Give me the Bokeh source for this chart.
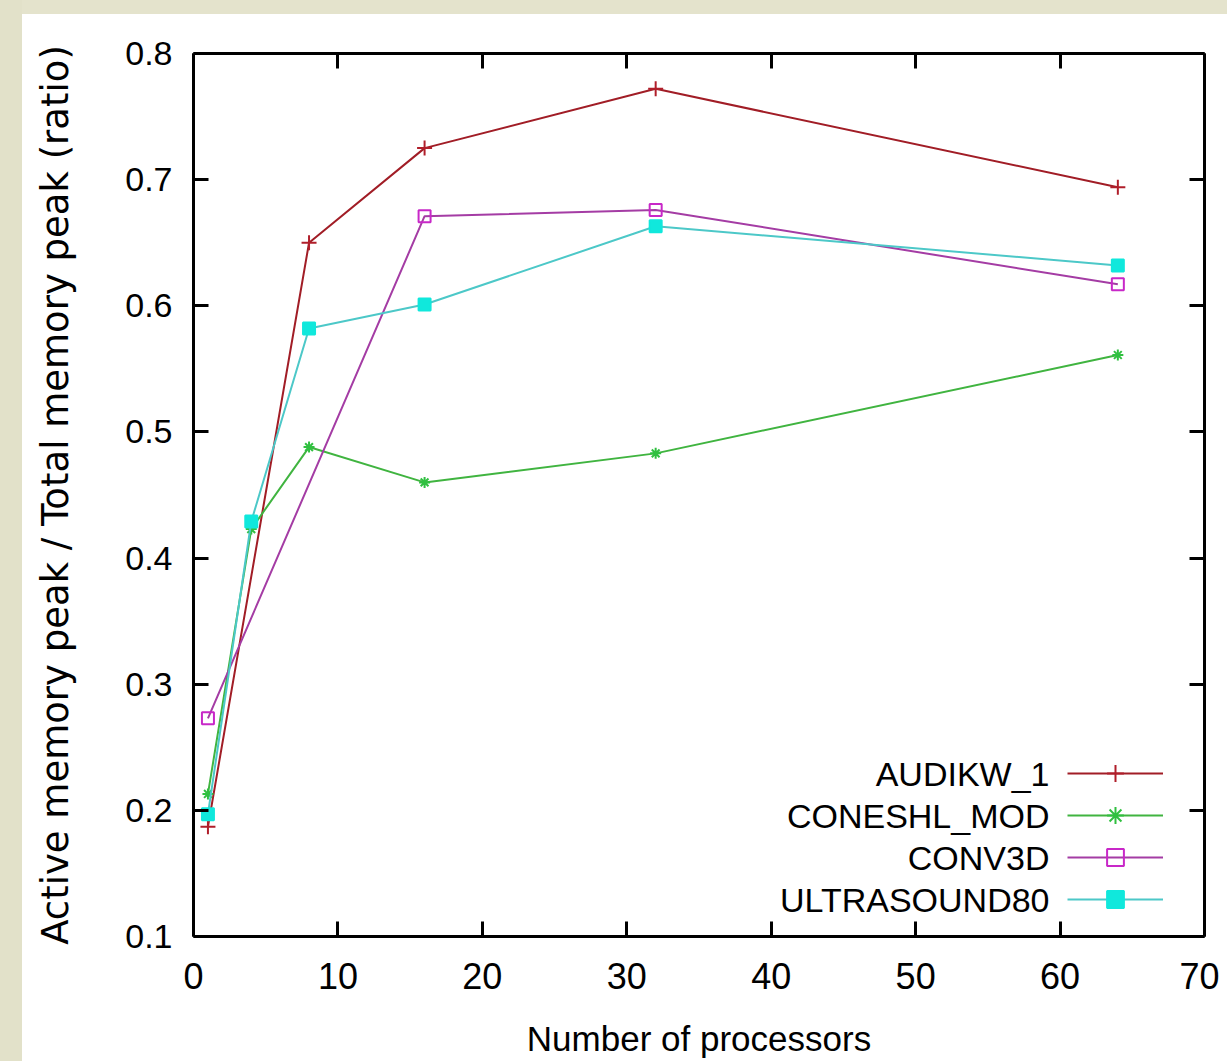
from bokeh.plotting import figure
from bokeh.models import (LinearAxis, FixedTicker, Range1d, Legend, LegendItem, Label,
                          CustomJSTickFormatter)
from bokeh.embed import file_html
from bokeh.resources import INLINE

# ---------------- data ----------------
x_label = "Number of processors"
y_label = "Active memory peak / Total memory peak (ratio)"
x_ticks = [0, 10, 20, 30, 40, 50, 60, 70]
y_ticks = [0.1, 0.2, 0.3, 0.4, 0.5, 0.6, 0.7, 0.8]

series_names = ["AUDIKW_1", "CONESHL_MOD", "CONV3D", "ULTRASOUND80"]

audikw_x = [1, 8, 16, 32, 64]
audikw_y = [0.187, 0.650, 0.725, 0.772, 0.694]

coneshl_x = [1, 4, 8, 16, 32, 64]
coneshl_y = [0.213, 0.423, 0.488, 0.460, 0.483, 0.561]

conv3d_x = [1, 16, 32, 64]
conv3d_y = [0.273, 0.671, 0.676, 0.617]

ultra_x = [1, 4, 8, 16, 32, 64]
ultra_y = [0.197, 0.429, 0.582, 0.601, 0.663, 0.632]

# ---------------- styles ----------------
line_colors = ["#a11d26", "#40b440", "#a43ca4", "#4cc8c8"]
marker_colors = ["#b01e2a", "#30c040", "#c828c8", "#10e8dc"]
markers = ["cross", "asterisk", "square", "square"]
marker_sizes = [15, 11, 12, 12]
marker_fill = [False, False, False, True]

FONT = "Liberation Sans"

p = figure(width=1219, height=1061,
           x_range=Range1d(0, 70), y_range=Range1d(0.1, 0.8),
           output_backend="svg", toolbar_location=None,
           min_border_left=193, min_border_right=15,
           min_border_top=53, min_border_bottom=125,
           background_fill_color="white", border_fill_alpha=0.0,
           outline_line_color=None)
p.grid.visible = False

xa = p.xaxis[0]
xa.ticker = FixedTicker(ticks=x_ticks)
xa.axis_label = x_label
ya = p.yaxis[0]
ya.ticker = FixedTicker(ticks=y_ticks)
ya.axis_label = y_label

for ax in (xa, ya):
    ax.axis_line_width = 3
    ax.axis_line_color = "black"
    ax.major_tick_in = 15
    ax.major_tick_out = 0
    ax.major_tick_line_width = 3
    ax.minor_tick_line_color = None
    ax.axis_label_text_font_style = "normal"
    ax.major_label_text_color = "black"
    ax.axis_label_text_color = "black"

xa.major_label_text_font = FONT
xa.major_label_text_font_size = "36px"
xa.major_label_standoff = 26
xa.axis_label_text_font = FONT
xa.axis_label_text_font_size = "35px"
xa.axis_label_standoff = 27

ya.major_label_text_font = FONT
ya.major_label_text_font_size = "34px"
ya.major_label_standoff = 21
ya.axis_label_text_font = "DejaVu Sans"
ya.axis_label_text_font_size = "37px"
ya.axis_label_standoff = 45

# mirrored axes (top / right) with inward ticks, no labels
blank = CustomJSTickFormatter(code="return ''")
top = LinearAxis(ticker=FixedTicker(ticks=x_ticks), formatter=blank,
                 major_tick_in=15, major_tick_out=0, axis_line_width=3,
                 major_tick_line_width=3, minor_tick_line_color=None,
                 major_label_standoff=0)
right = LinearAxis(ticker=FixedTicker(ticks=y_ticks), formatter=blank,
                   major_tick_in=15, major_tick_out=0, axis_line_width=3,
                   major_tick_line_width=3, minor_tick_line_color=None,
                   major_label_standoff=0)
p.add_layout(top, "above")
p.add_layout(right, "right")

xs = [audikw_x, coneshl_x, conv3d_x, ultra_x]
ys = [audikw_y, coneshl_y, conv3d_y, ultra_y]

items = []
for i in range(4):
    lr = p.line(xs[i], ys[i], line_color=line_colors[i], line_width=2)
    sr = p.scatter(xs[i], ys[i], marker=markers[i], size=marker_sizes[i],
                   line_color=marker_colors[i], line_width=2,
                   fill_color=marker_colors[i] if marker_fill[i] else None)
    items.append(LegendItem(label="", renderers=[lr, sr]))

legend = Legend(items=items, location=(874, 16), glyph_width=96, glyph_height=42,
                label_width=0, label_standoff=0, label_height=0, padding=0, spacing=0,
                margin=0, border_line_color=None, background_fill_alpha=0,
                label_text_font_size="10px")
p.add_layout(legend)

label_rows = [163, 121, 79, 37]
for name, yy in zip(series_names, label_rows):
    p.add_layout(Label(x=856, y=yy, x_units="screen", y_units="screen", text=name,
                       text_align="right", text_baseline="middle",
                       text_font=FONT, text_font_size="34px", text_color="black"))

html = file_html(p, INLINE)
style = ("<style>html{background: linear-gradient(to right, #e2e1c9 22px, rgba(0,0,0,0) 22px),"
         " linear-gradient(to bottom, #e4e3cc 14px, #ffffff 14px);}</style></head>")
html = html.replace("</head>", style, 1)
open("out.html", "w").write(html)
